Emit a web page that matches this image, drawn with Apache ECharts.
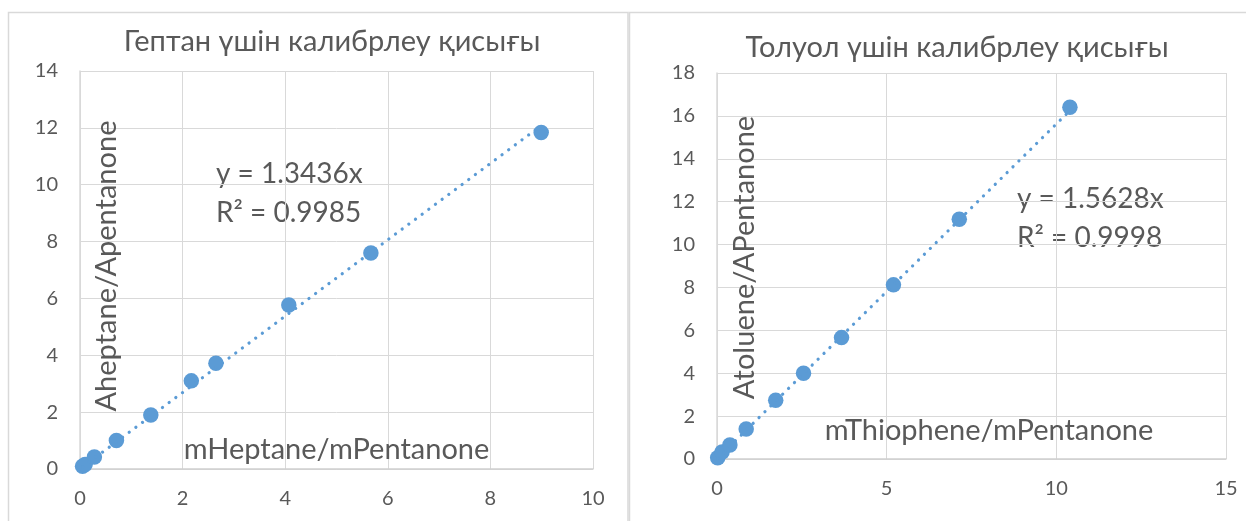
<!DOCTYPE html>
<html>
<head>
<meta charset="utf-8">
<script src="https://cdn.jsdelivr.net/npm/echarts@6/dist/echarts.min.js"></script>
<style>
  html, body { margin: 0; padding: 0; background: #ffffff; }
  #chart { width: 1246px; height: 521px; }
</style>
</head>
<body>
<div id="chart"></div>
<script>
// ---- Data ----
const heptaneTitle = 'Гептан үшін калибрлеу қисығы';
const tolueneTitle = 'Толуол үшін калибрлеу қисығы';

const heptaneX = [0.05, 0.10, 0.28, 0.71, 1.38, 2.17, 2.65, 4.07, 5.67, 8.99];
const heptaneY = [0.10, 0.16, 0.42, 1.00, 1.90, 3.10, 3.72, 5.77, 7.60, 11.84];
const heptaneTrendX = [0.05, 8.99];
const heptaneTrendY = [0.07, 12.08];
const heptaneEquation = ['y = 1.3436x', 'R² = 0.9985'];
const heptaneXName = 'mHeptane/mPentanone';
const heptaneYName = 'Aheptane/Apentanone';

const tolueneX = [0.02, 0.15, 0.38, 0.86, 1.73, 2.55, 3.67, 5.20, 7.14, 10.40];
const tolueneY = [0.06, 0.33, 0.65, 1.40, 2.74, 4.00, 5.66, 8.12, 11.18, 16.40];
const tolueneTrendX = [0.02, 10.40];
const tolueneTrendY = [0.03, 16.25];
const tolueneEquation = ['y = 1.5628x', 'R² = 0.9998'];
const tolueneXName = 'mThiophene/mPentanone';
const tolueneYName = 'Atoluene/APentanone';

// ---- Styles ----
const FONT = 'Lato, "Open Sans", "Noto Sans", sans-serif';
const TXT = '#595959';
const BLUE = '#5B9BD5';
const GRID = '#D9D9D9';
const NAME_SIZE = 29;

const zip = (xs, ys) => xs.map((x, i) => [x, ys[i]]);

function xAxis(gridIndex, max, interval, name, gap, padLeft) {
  return {
    type: 'value', gridIndex, min: 0, max, interval,
    name, nameLocation: 'middle', nameGap: gap,
    nameTextStyle: { fontFamily: FONT, fontSize: NAME_SIZE, color: TXT, padding: [0, 0, 0, padLeft] },
    axisLine: { show: true, lineStyle: { color: '#D0D0D0', width: 1.5 } },
    axisTick: { show: false },
    axisLabel: { fontFamily: FONT, fontSize: 20, color: TXT, margin: 20 },
    splitLine: { show: true, lineStyle: { color: GRID, width: 1 } }
  };
}
function yAxis(gridIndex, max, interval, name, gap, padLeft) {
  return {
    type: 'value', gridIndex, min: 0, max, interval,
    name, nameLocation: 'middle', nameGap: gap, nameRotate: 90,
    nameTextStyle: { fontFamily: FONT, fontSize: NAME_SIZE, color: TXT, padding: [0, 0, 0, padLeft] },
    axisLine: { show: true, lineStyle: { color: GRID, width: 1.5 } },
    axisTick: { show: false },
    axisLabel: { fontFamily: FONT, fontSize: 20, color: TXT, margin: 22 },
    splitLine: { show: true, lineStyle: { color: GRID, width: 1 } }
  };
}
function trend(idx, xs, ys) {
  return {
    type: 'line', xAxisIndex: idx, yAxisIndex: idx, data: zip(xs, ys),
    showSymbol: false, symbol: 'none', silent: true, z: 3,
    lineStyle: { color: BLUE, width: 3.2, type: [0.1, 8.2], cap: 'round' }
  };
}
function scatter(idx, xs, ys) {
  return {
    type: 'scatter', xAxisIndex: idx, yAxisIndex: idx, data: zip(xs, ys),
    symbol: 'circle', symbolSize: 15.5, z: 2,
    itemStyle: { color: BLUE, opacity: 1 }
  };
}
function label(x, y, text, size, align) {
  return {
    type: 'text', x, y, silent: true,
    style: { text, font: size + 'px ' + FONT, fill: TXT, align: align, verticalAlign: 'middle' }
  };
}

const chart = echarts.init(document.getElementById('chart'), null, { renderer: 'canvas' });
chart.setOption({
  backgroundColor: '#ffffff',
  animation: false,
  grid: [
    { left: 80, top: 71, width: 513, height: 398 },
    { left: 717, top: 73, width: 509, height: 386 }
  ],
  xAxis: [
    xAxis(0, 10, 2, heptaneXName, -34, 0),
    xAxis(1, 15, 5, tolueneXName, -43, 35)
  ],
  yAxis: [
    yAxis(0, 14, 2, heptaneYName, -41, 8),
    yAxis(1, 18, 2, tolueneYName, -42, 17)
  ],
  series: [
    scatter(0, heptaneX, heptaneY),
    trend(0, heptaneTrendX, heptaneTrendY),
    scatter(1, tolueneX, tolueneY),
    trend(1, tolueneTrendX, tolueneTrendY)
  ],
  graphic: [
    { type: 'rect', silent: true, z: -10, shape: { x: 8.5, y: 12.5, width: 619.5, height: 600 },
      style: { fill: '#ffffff', stroke: GRID, lineWidth: 1.5 } },
    { type: 'rect', silent: true, z: -10, shape: { x: 629.5, y: 12.5, width: 700, height: 600 },
      style: { fill: '#ffffff', stroke: GRID, lineWidth: 1.5 } },
    label(332, 42, heptaneTitle, 29, 'center'),
    label(957, 47.5, tolueneTitle, 29, 'center'),
    label(216, 174, heptaneEquation[0], 28, 'left'),
    label(216, 213, heptaneEquation[1], 28, 'left'),
    label(1017, 199, tolueneEquation[0], 28, 'left'),
    label(1017, 238, tolueneEquation[1], 28, 'left')
  ]
});
</script>
</body>
</html>
